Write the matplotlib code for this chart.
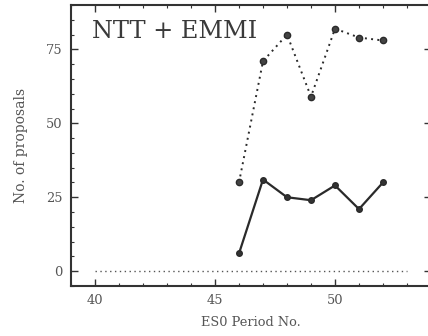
import numpy as np
import matplotlib
matplotlib.use("Agg")
import matplotlib.pyplot as plt
from matplotlib.ticker import MultipleLocator

plt.rcParams['font.family'] = ['DejaVu Serif']

# data
period = [46, 47, 48, 49, 50, 51, 52]
accepted = [6, 31, 25, 24, 29, 21, 30]
submitted = [30, 71, 80, 59, 82, 79, 78]
zero_x = [40, 53]
zero_y = [0, 0]

fig = plt.figure(figsize=(4.28, 3.36), dpi=100)
ax = fig.add_axes([71/428, 50/336, 360/428, 281/336])

ink = '#2a2a2a'
ax.plot(period, submitted, color=ink, ls=(0, (1, 2.2)), lw=1.4,
        marker='o', ms=4.5, mfc='#444444', mec=ink)
ax.plot(period, accepted, color=ink, ls='-', lw=1.6,
        marker='o', ms=4, mfc='#333333', mec=ink)
ax.plot(zero_x, zero_y, color='#555555', ls=(0, (1, 2.5)), lw=1.0)

ax.set_xlim(39, 54)
ax.set_ylim(-5, 90)
ax.xaxis.set_major_locator(MultipleLocator(5))
ax.xaxis.set_minor_locator(MultipleLocator(1))
ax.yaxis.set_major_locator(MultipleLocator(25))
ax.yaxis.set_minor_locator(MultipleLocator(5))
ax.tick_params(which='both', direction='in', top=True, right=True,
               colors='#333333', labelcolor='#555555', labelsize=9.4)
ax.tick_params(which='major', length=5, width=1.0, pad=6)
ax.tick_params(which='minor', length=2.5, width=0.8)
for s in ax.spines.values():
    s.set_linewidth(1.5)
    s.set_color('#333333')

ax.set_xlabel('ES0 Period No.', fontsize=9.3, color='#555555', labelpad=6)
ax.set_ylabel('No. of proposals', fontsize=10, color='#555555', labelpad=13)
ax.text(21/360, 248/281, 'NTT + EMMI', transform=ax.transAxes, fontsize=17.3,
        color='#3a3a3a', va='baseline', ha='left')

fig.savefig('out.png', dpi=100)
